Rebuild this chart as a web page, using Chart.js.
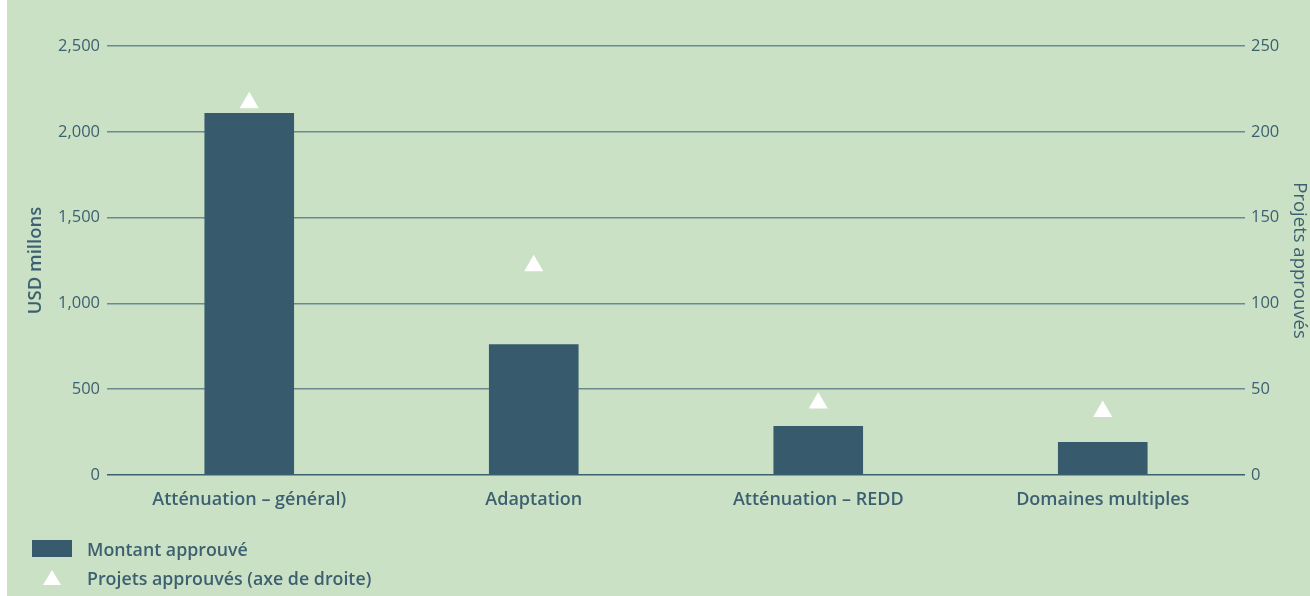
<!DOCTYPE html>
<html>
<head>
<meta charset="utf-8">
<script src="https://cdn.jsdelivr.net/npm/chart.js@4"></script>
<style>
  html, body { margin: 0; padding: 0; background: #fff; }
  #wrap { position: absolute; left: 7px; top: 0; width: 1303px; height: 596px; background: #cbe1c6; }
  #legend { position: absolute; left: 25px; top: 534px; font-family: 'Open Sans', sans-serif; font-weight: 600; font-size: 17.8px; color: #3d6071; }
  .item { display: flex; align-items: center; height: 29px; }
  .swatch { width: 40px; height: 17px; margin-right: 15px; display: flex; justify-content: center; align-items: center; }
</style>
</head>
<body>
<div id="wrap">
  <canvas id="chart" width="1303" height="596"></canvas>
  <div id="legend"></div>
</div>
<script>
const categories = ['Atténuation – général)', 'Adaptation', 'Atténuation – REDD', 'Domaines multiples'];
const montantApprouve = [2110, 762, 286, 192];
const projetsApprouves = [217, 122, 42, 37];

const textColor = '#3d6071';
const barColor = '#375b6d';

const ctx = document.getElementById('chart').getContext('2d');
const chart = new Chart(ctx, {
  type: 'bar',
  data: {
    labels: categories,
    datasets: [
      {
        type: 'line',
        label: 'Projets approuvés (axe de droite)',
        data: projetsApprouves,
        yAxisID: 'y2',
        showLine: false,
        pointStyle: 'triangle',
        pointRadius: 11,
        pointBackgroundColor: '#ffffff',
        pointBorderWidth: 0,
        backgroundColor: '#ffffff',
        borderColor: '#ffffff',
      },
      {
        label: 'Montant approuvé',
        data: montantApprouve,
        yAxisID: 'y',
        backgroundColor: barColor,
        barPercentage: 0.315,
        categoryPercentage: 1,
      },
    ],
  },
  options: {
    responsive: false,
    animation: false,
    layout: { padding: { top: 46 } },
    plugins: {
      legend: { display: false },
      tooltip: { enabled: false },
    },
    scales: {
      x: {
        grid: { display: false },
        border: { display: false },
        ticks: {
          color: textColor,
          padding: 6,
          font: { family: 'Open Sans', weight: '600', size: 18 },
        },
        afterFit: (scale) => { scale.height = 121; },
      },
      y: {
        position: 'left',
        min: 0,
        max: 2500,
        border: { display: false },
        grid: {
          drawTicks: false,
          color: (c) => c.tick.value === 0 ? '#3d6071' : '#6a8a8f',
          lineWidth: 1.5,
        },
        ticks: {
          stepSize: 500,
          color: textColor,
          padding: 7,
          font: { family: 'Open Sans', size: 16.5 },
          callback: (v) => v.toLocaleString('en-US'),
        },
        title: {
          display: true,
          text: 'USD millons',
          color: textColor,
          padding: { top: 18, bottom: 0 },
          font: { family: 'Open Sans', weight: '600', size: 18.5 },
        },
        afterFit: (scale) => { scale.width = 100; },
      },
      y2: {
        position: 'right',
        min: 0,
        max: 250,
        border: { display: false },
        grid: { display: false, drawTicks: false },
        ticks: {
          stepSize: 50,
          color: textColor,
          padding: 6,
          font: { family: 'Open Sans', size: 16.5 },
        },
        title: {
          display: true,
          text: 'Projets approuvés',
          color: textColor,
          padding: { top: 0, bottom: 0 },
          font: { family: 'Open Sans', size: 18.5 },
        },
        afterFit: (scale) => { scale.width = 65; },
      },
    },
  },
});

// legend stacked vertically, built from the chart's own legend items
const legendEl = document.getElementById('legend');
const items = chart.options.plugins.legend.labels.generateLabels(chart).reverse();
items.forEach((it) => {
  const row = document.createElement('div');
  row.className = 'item';
  const sw = document.createElement('div');
  sw.className = 'swatch';
  const ds = chart.data.datasets[it.datasetIndex];
  if (ds.type === 'line') {
    sw.innerHTML = '<svg width="18" height="15"><polygon points="9,0 18,15 0,15" fill="#fff"/></svg>';
  } else {
    sw.style.background = ds.backgroundColor;
  }
  const tx = document.createElement('span');
  tx.textContent = it.text;
  row.appendChild(sw);
  row.appendChild(tx);
  legendEl.appendChild(row);
});
</script>
</body>
</html>
